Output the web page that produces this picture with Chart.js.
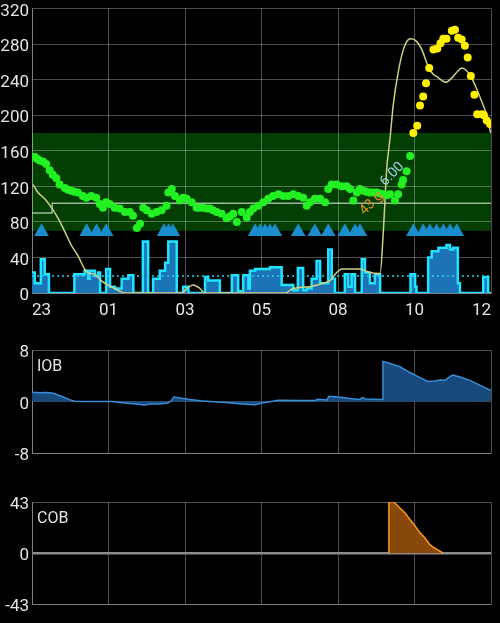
<!DOCTYPE html>
<html>
<head>
<meta charset="utf-8">
<script src="https://cdn.jsdelivr.net/npm/chart.js@4.4.0/dist/chart.umd.min.js"></script>
<style>
  html, body { margin: 0; padding: 0; background: #000; }
  body { width: 500px; height: 623px; position: relative; overflow: hidden; }
  .painel { position: absolute; left: 0; width: 500px; }
  #painel-bg { top: 0; }
  #painel-iob { top: 340px; }
  #painel-cob { top: 492px; }
</style>
</head>
<body>
<div class="painel" id="painel-bg"><canvas id="grafico-bg" width="500" height="325"></canvas></div>
<div class="painel" id="painel-iob"><canvas id="grafico-iob" width="500" height="125"></canvas></div>
<div class="painel" id="painel-cob"><canvas id="grafico-cob" width="500" height="125"></canvas></div>
<script>
// 1. Dados (tempo em horas desde as 23h)
const rotulosX = ['23', '01', '03', '05', '08', '10', '12'];
const horasTotais = 13;

const horasBg = [0.08, 0.14, 0.22, 0.31, 0.40, 0.50, 0.59, 0.69, 0.78, 0.93, 1.02, 1.11, 1.20, 1.30, 1.44, 1.54, 1.68, 1.82, 1.92, 2.01,
  2.10, 2.20, 2.34, 2.48, 2.63, 2.77, 2.86, 2.97, 3.06, 3.15, 3.25, 3.39, 3.53, 3.67, 3.81, 3.86, 3.96, 4.05, 4.19, 4.28,
  4.38, 4.52, 4.66, 4.75, 4.85, 4.95, 5.04, 5.13, 5.23, 5.37, 5.51, 5.60, 5.70, 5.80, 5.94, 6.08, 6.17, 6.27, 6.41, 6.55,
  6.69, 6.83, 6.98, 7.12, 7.26, 7.40, 7.54, 7.68, 7.78, 7.87, 8.01, 8.16, 8.30, 8.39, 8.49, 8.63, 8.77, 8.91, 9.01, 9.10,
  9.20, 9.29, 9.38, 9.47, 9.57, 9.66, 9.76, 9.85, 9.95, 10.05, 10.14, 10.28, 10.37, 10.47, 10.51, 10.61, 10.71,
  10.80, 10.91, 10.99, 11.08, 11.16, 11.25, 11.37, 11.48, 11.57, 11.65, 11.74, 11.89, 11.98, 12.07, 12.17, 12.26, 12.34,
  12.43, 12.53, 12.61, 12.74, 12.80, 12.88, 12.97];
const valoresBg = [153, 151, 149, 148, 145, 138, 133, 129, 122, 118, 116, 115, 114, 113, 109, 107, 109, 107, 100, 96,
  102, 100, 96, 95, 91, 91, 87, 73, 78, 96, 93, 89, 91, 93, 98, 113, 117, 109, 104, 107,
  106, 102, 96, 96, 96, 95, 95, 93, 91, 89, 84, 86, 89, 80, 91, 85, 91, 95, 98, 102,
  106, 109, 111, 109, 109, 111, 109, 107, 98, 102, 106, 106, 102, 117, 122, 122, 120, 120, 117, 104,
  113, 117, 115, 114, 113, 113, 113, 112, 111, 110, 111, 104, 111, 122, 127, 137, 154,
  180, 188, 211, 221, 236, 253, 274, 275, 281, 286, 286, 295, 296, 287, 285, 278, 265,
  244, 223, 201, 201, 200, 194, 190];
const alvoBaixo = 70;
const alvoAlto = 180;

const horasAlvo = [0, 0.57, 13];
const valoresAlvo = [90, 101, 101];

const horasAtividade = [0.03, 0.17, 0.36, 0.55, 0.74, 0.93, 1.11, 1.30, 1.49, 1.59, 1.78, 1.96, 2.15, 2.34, 2.49, 2.63,
  4.25, 4.39, 4.56, 4.73, 4.90,
  7.17, 7.39, 7.87, 8.24, 8.44, 8.63, 8.77, 9.01, 9.29, 9.57, 9.86, 9.95, 10.05, 10.10, 10.15, 10.23, 10.37, 10.52, 10.66, 10.75,
  10.89, 11.04, 11.18, 11.32, 11.51, 11.72, 11.89, 12.07, 12.17, 12.31, 12.45, 12.59, 12.74, 12.88, 12.99];
const valoresAtividade = [122, 113, 106, 96, 84, 69, 54, 42, 27, 23, 21, 14, 9, 5, 2, 0,
  0, 5, 9, 6, 0,
  0, 5, 7, 11, 14, 23, 27, 27, 27, 23, 22, 69, 142, 160, 178, 211, 248, 274, 285, 286,
  283, 274, 259, 248, 242, 237, 242, 250, 253, 250, 242, 230, 215, 200, 180];

const horasBasal = [0, 0.08, 0.25, 0.36, 0.48, 1.20, 1.49, 1.59, 1.63, 1.78, 1.87, 1.93, 2.10, 2.21, 2.35, 2.54, 2.73, 2.87, 3.14, 3.29,
  3.43, 3.62, 3.77, 3.86, 4.10, 4.28, 4.43, 4.90, 4.99, 5.32, 5.66, 5.84, 5.98, 6.13, 6.17, 6.32, 6.74, 7.07, 7.40, 7.53,
  7.68, 7.78, 7.92, 8.06, 8.16, 8.39, 8.49, 8.58, 8.86, 8.96, 9.05, 9.15, 9.34, 9.43, 9.57, 9.71, 9.86, 10.72, 10.85, 10.89,
  11.22, 11.32, 11.51, 11.74, 11.84, 11.93, 12.06, 12.12, 12.78, 12.92, 13.0];
const valoresBasal = [23, 11, 38, 21, 0, 21, 25, 16, 25, 19, 23, 0, 27, 7, 5, 16, 20, 0, 58, 0,
  16, 25, 34, 58, 0, 7, 0, 18, 14, 0, 20, 2, 20, 5, 25, 27, 29, 9, 3, 28,
  3, 5, 16, 36, 11, 49, 16, 0, 21, 7, 21, 0, 38, 23, 11, 21, 0, 21, 7, 0,
  40, 47, 51, 54, 49, 51, 11, 0, 18, 0, 0];
const basalPerfil = 19;

const horasSmb = [0.27, 1.55, 1.83, 2.10, 3.74, 3.87, 3.99, 6.32, 6.46, 6.60, 6.74, 6.88, 7.54, 8.01, 8.39, 8.86, 9.15, 9.29,
  10.80, 11.08, 11.27, 11.46, 11.65, 11.84, 12.03];
const nivelSmb = 69;

const horaTratamento = 9.91;
const bgTratamento = 117;
const textoBolus = '6.00';
const textoCarbs = '43 g';

const horasIob = [0, 0.23, 0.37, 0.51, 0.65, 0.79, 0.93, 1.08, 1.22, 1.36, 2.27, 2.49, 2.78, 3.06, 3.20, 3.34, 3.62, 3.85, 3.94, 4.02,
  4.19, 4.47, 4.76, 5.04, 5.47, 5.89, 6.17, 6.32, 6.51, 6.74, 6.97, 7.59, 8.01, 8.10, 8.35, 8.41, 8.67, 9.01, 9.29, 9.35,
  9.46, 9.71, 9.93, 9.94, 10.14, 10.42, 10.71, 10.85, 10.99, 11.21, 11.41, 11.55, 11.70, 11.84, 11.92, 12.12, 12.35, 12.55, 12.77, 13.0];
const valoresIob = [1.45, 1.35, 1.4, 1.35, 1.2, 0.9, 0.6, 0.25, 0.05, 0, 0, -0.15, -0.3, -0.45, -0.55, -0.4, -0.4, -0.25, 0.1, 0.7,
  0.55, 0.3, 0.1, 0, -0.15, -0.35, -0.45, -0.5, -0.25, -0.05, 0.2, 0.15, 0.15, 0.35, 0.25, 0.8, 0.7, 0.45, 0.3, 0.6,
  0.4, 0.35, 0.3, 6.2, 5.9, 5.4, 4.5, 4.1, 3.7, 3.1, 3.2, 3.35, 3.3, 3.9, 4.1, 3.8, 3.4, 2.9, 2.3, 1.7];

const horasCob = [10.11, 10.11, 10.25, 10.42, 10.56, 10.71, 10.82, 10.99, 11.13, 11.27, 11.36, 11.47, 11.64];
const valoresCob = [0, 43, 43, 38, 34, 28, 24, 17, 12.6, 7, 5, 3, 0];

// 2. Estilos comuns
const corGrade = 'rgba(255,255,255,0.3)';
const corTexto = '#e4e4e4';
const fonteEixo = { family: 'Roboto', size: 17 };

const pontos = (horas, valores) => horas.map((h, i) => ({ x: h, y: valores[i] }));

function eixoX(mostrarRotulos, altura) {
  return {
    type: 'linear',
    min: 0,
    max: horasTotais,
    afterBuildTicks: (eixo) => {
      eixo.ticks = rotulosX.map((r, i) => ({ value: i * horasTotais / (rotulosX.length - 1) }));
    },
    ticks: {
      display: mostrarRotulos,
      color: corTexto,
      font: fonteEixo,
      padding: 8,
      align: 'inner',
      maxRotation: 0,
      autoSkip: false,
      callback: (v, i) => rotulosX[i]
    },
    grid: { color: corGrade, drawTicks: false },
    border: { color: corGrade },
    afterFit: (eixo) => { eixo.height = altura; eixo.paddingLeft = 0; eixo.paddingRight = 0; }
  };
}

function eixoY(min, max, passo, gradeZero) {
  return {
    min: min,
    max: max,
    ticks: { stepSize: passo, color: corTexto, font: fonteEixo, padding: 3, labelOffset: 3 },
    grid: {
      color: (c) => (gradeZero && c.tick && c.tick.value === 0) ? '#8c8c8c' : corGrade,
      lineWidth: (c) => (gradeZero && c.tick && c.tick.value === 0) ? 2.5 : 1,
      drawTicks: false
    },
    border: { color: corGrade },
    afterFit: (eixo) => { eixo.width = 32; eixo.paddingTop = 0; eixo.paddingBottom = 0; }
  };
}

// 3. Plugins: faixa alvo, textos do tratamento e rótulo do painel
const faixaAlvo = {
  id: 'faixaAlvo',
  beforeDraw(chart) {
    const { ctx, chartArea, scales } = chart;
    const yTopo = scales.y.getPixelForValue(alvoAlto);
    const yBase = scales.y.getPixelForValue(alvoBaixo);
    ctx.save();
    ctx.fillStyle = '#033f03';
    ctx.fillRect(chartArea.left, yTopo, chartArea.right - chartArea.left, yBase - yTopo);
    ctx.restore();
  }
};

const textosTratamento = {
  id: 'textosTratamento',
  afterDatasetsDraw(chart) {
    const { ctx, scales } = chart;
    const px = scales.x.getPixelForValue(horaTratamento);
    const py = scales.y.getPixelForValue(bgTratamento);
    ctx.save();
    ctx.translate(px, py);
    ctx.rotate(-Math.PI / 4);
    ctx.font = '14px Roboto';
    ctx.textBaseline = 'middle';
    ctx.fillStyle = '#9fd4e8';
    ctx.textAlign = 'left';
    ctx.fillText(textoBolus, 4, -3);
    ctx.fillStyle = '#e8902a';
    ctx.textAlign = 'right';
    ctx.fillText(textoCarbs, -4, 3);
    ctx.restore();
  }
};

const rotuloPainel = {
  id: 'rotuloPainel',
  afterDraw(chart, args, opts) {
    if (!opts.texto) return;
    const { ctx, chartArea } = chart;
    ctx.save();
    ctx.font = '16px Roboto';
    ctx.fillStyle = corTexto;
    ctx.textBaseline = 'middle';
    ctx.textAlign = 'left';
    ctx.fillText(opts.texto, chartArea.left + 5, chartArea.top + 17);
    ctx.restore();
  }
};

Chart.defaults.animation = false;
Chart.defaults.plugins.legend.display = false;
Chart.defaults.plugins.tooltip.enabled = false;

// 4. Gráfico principal (glicemia + basal)
new Chart(document.getElementById('grafico-bg'), {
  type: 'line',
  data: {
    datasets: [
      {
        data: pontos(horasBg, valoresBg),
        showLine: false,
        pointRadius: 4,
        pointBorderWidth: 0,
        pointBackgroundColor: (c) => (c.raw && c.raw.y >= alvoAlto) ? '#fff000' : '#22f022'
      },
      {
        data: horasSmb.map(h => ({ x: h, y: nivelSmb })),
        showLine: false,
        pointStyle: 'triangle',
        pointRadius: 8.5,
        pointBorderWidth: 0,
        pointBackgroundColor: '#1b8ccc'
      },
      {
        data: pontos(horasAtividade, valoresAtividade),
        borderColor: '#cfcf86',
        borderWidth: 1.5,
        pointRadius: 0,
        cubicInterpolationMode: 'monotone'
      },
      {
        data: pontos(horasAlvo, valoresAlvo),
        stepped: true,
        borderColor: 'rgba(205,225,205,0.75)',
        borderWidth: 1.5,
        pointRadius: 0
      },
      {
        data: [{ x: 0, y: basalPerfil }, { x: horasTotais, y: basalPerfil }],
        borderColor: '#2ad0ee',
        borderWidth: 1.5,
        borderDash: [2, 3],
        pointRadius: 0
      },
      {
        data: pontos(horasBasal, valoresBasal),
        stepped: true,
        borderColor: '#20e4ff',
        borderWidth: 2.5,
        backgroundColor: '#1c74b6',
        fill: 'origin',
        pointRadius: 0
      }
    ]
  },
  options: {
    responsive: false,
    layout: { padding: { top: 2, right: 9, left: 0, bottom: 0 } },
    scales: {
      x: eixoX(true, 32),
      y: eixoY(0, 320, 40, false)
    }
  },
  plugins: [faixaAlvo, textosTratamento]
});

// 5. IOB
new Chart(document.getElementById('grafico-iob'), {
  type: 'line',
  data: {
    datasets: [{
      data: pontos(horasIob, valoresIob),
      borderColor: '#3a8cd6',
      borderWidth: 1.5,
      backgroundColor: '#17497c',
      fill: 'origin',
      pointRadius: 0
    }]
  },
  options: {
    responsive: false,
    layout: { padding: { top: 10, right: 9, left: 0, bottom: 0 } },
    plugins: { rotuloPainel: { texto: 'IOB' } },
    scales: {
      x: eixoX(false, 12),
      y: eixoY(-8, 8, 8, false)
    }
  },
  plugins: [rotuloPainel]
});

// 6. COB
new Chart(document.getElementById('grafico-cob'), {
  type: 'line',
  data: {
    datasets: [{
      data: pontos(horasCob, valoresCob),
      borderColor: '#ff9820',
      borderWidth: 1.5,
      backgroundColor: '#87480a',
      fill: 'origin',
      pointRadius: 0
    }]
  },
  options: {
    responsive: false,
    layout: { padding: { top: 10, right: 9, left: 0, bottom: 0 } },
    plugins: { rotuloPainel: { texto: 'COB' } },
    scales: {
      x: eixoX(false, 13),
      y: eixoY(-43, 43, 43, true)
    }
  },
  plugins: [rotuloPainel]
});
</script>
</body>
</html>
